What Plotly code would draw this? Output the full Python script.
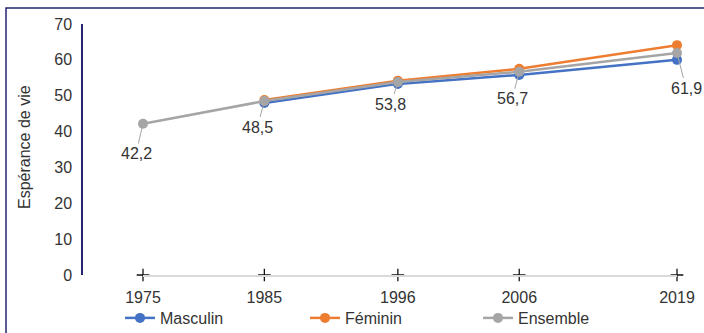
import plotly.graph_objects as go

# Life expectancy by sex, census years
years = [1975, 1985, 1996, 2006, 2019]
masculin = [None, 48.0, 53.3, 55.8, 60.0]
feminin = [None, 48.8, 54.2, 57.5, 64.1]
ensemble = [42.2, 48.5, 53.8, 56.7, 61.9]

series_names = ["Masculin", "Féminin", "Ensemble"]
series_colors = ["#4472C4", "#ED7D31", "#A5A5A5"]
y_ticks = [0, 10, 20, 30, 40, 50, 60, 70]

# label offsets (px) for the Ensemble value callouts
label_dx = [-7, -7, -7, -7, 9]
label_dy = [30, 26, 22, 27, 35]

# left edge (px) of each legend entry
legend_left = [120, 305, 478]

W, H = 704, 333
FONT = "Liberation Sans, Arial, sans-serif"
FS = 16
TXT = "#333333"
NAVY = "#262670"

fig = go.Figure()

legend_ids = ["legend", "legend2", "legend3"]
for name, vals, col, lg in zip(series_names, [masculin, feminin, ensemble], series_colors, legend_ids):
    fig.add_trace(go.Scatter(
        x=years, y=vals, name=name, mode="lines+markers",
        line=dict(color=col, width=2.5),
        marker=dict(color=col, size=10),
        cliponaxis=False, connectgaps=False, legend=lg,
    ))

# "+" tick marks along the category axis
fig.add_trace(go.Scatter(
    x=years, y=[0] * len(years), mode="markers", showlegend=False,
    hoverinfo="skip", cliponaxis=False,
    marker=dict(symbol="cross-thin", size=9, line=dict(color="#111111", width=1.3)),
))

annotations = []
for x, v, dx, dy in zip(years, ensemble, label_dx, label_dy):
    annotations.append(dict(
        x=x, y=v, xref="x", yref="y", text=f"{v:.1f}".replace(".", ","),
        showarrow=True, arrowhead=0, arrowwidth=1, arrowcolor="#A5A5A5",
        ax=dx, ay=dy, standoff=3,
        font=dict(family=FONT, size=FS, color=TXT),
    ))

annotations.append(dict(
    x=25 / W, y=1 - 147 / H, xref="paper", yref="paper",
    xanchor="center", yanchor="middle",
    text="Espérance de vie", textangle=-90, showarrow=False,
    font=dict(family=FONT, size=FS, color=TXT),
))


def legend_box(left_px):
    return dict(
        orientation="h", x=left_px / W, xanchor="left",
        y=1 - 318 / H, yanchor="middle",
        font=dict(family=FONT, size=FS, color=TXT),
        bgcolor="rgba(0,0,0,0)",
    )


fig.update_layout(
    width=W, height=H,
    margin=dict(l=0, r=0, t=0, b=0, autoexpand=False),
    paper_bgcolor="white", plot_bgcolor="white",
    font=dict(family=FONT, size=FS, color=TXT),
    annotations=annotations,
    shapes=[dict(
        type="rect", xref="paper", yref="paper",
        x0=6 / W, x1=1.2, y0=-0.2, y1=1 - 8 / H,
        line=dict(color=NAVY, width=1.5), fillcolor="rgba(0,0,0,0)", layer="below",
    )],
    xaxis=dict(
        domain=[143 / W, 677 / W], range=[1975, 2019],
        tickmode="array", tickvals=years, ticktext=[str(y) for y in years],
        showgrid=False, zeroline=False,
        showline=True, linecolor="#D9D9D9", linewidth=2,
        ticks="", ticklabelstandoff=7,
        tickfont=dict(family=FONT, size=FS, color=TXT),
    ),
    yaxis=dict(
        domain=[(H - 275) / H, (H - 24) / H], range=[0, 70],
        anchor="free", position=82 / W,
        tickmode="array", tickvals=y_ticks,
        showgrid=False, zeroline=False,
        showline=True, linecolor=NAVY, linewidth=1.5,
        ticks="", ticklabelstandoff=6,
        tickfont=dict(family=FONT, size=FS, color=TXT),
    ),
    legend=legend_box(legend_left[0]),
    legend2=legend_box(legend_left[1]),
    legend3=legend_box(legend_left[2]),
    showlegend=True,
)

fig.write_html("out.html")
